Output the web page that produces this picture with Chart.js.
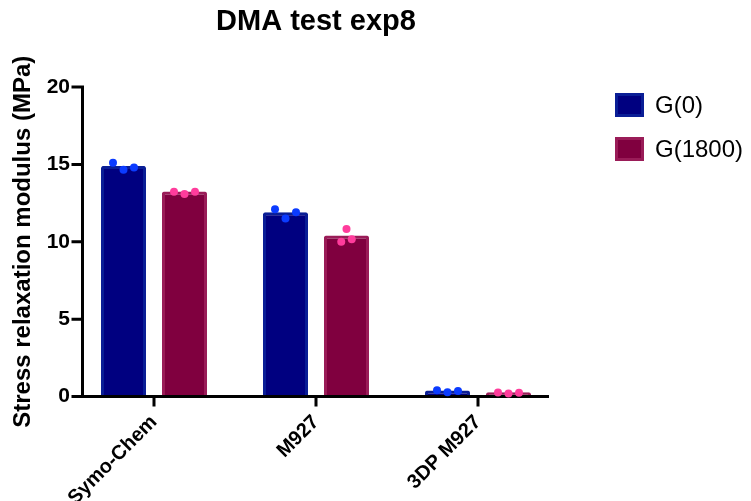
<!DOCTYPE html>
<html>
<head>
<meta charset="utf-8">
<title>DMA test exp8</title>
<script src="https://cdn.jsdelivr.net/npm/chart.js@4.4.1/dist/chart.umd.min.js"></script>
<style>
  html, body { margin: 0; padding: 0; background: #fff; }
  #wrap { width: 751px; height: 501px; }
</style>
</head>
<body>
<div id="wrap"><canvas id="dmaChart" width="751" height="501"></canvas></div>
<script>
// Sample groups and series
const groups = ['Symo-Chem', 'M927', '3DP M927'];
const seriesNames = ['G(0)', 'G(1800)'];

// Bar heights (mean modulus, MPa)
const g0Means = [14.9, 11.9, 0.38];
const g1800Means = [13.25, 10.4, 0.27];

// Individual replicates per group
const g0Reps = [[15.1, 14.65, 14.8], [12.1, 11.5, 11.9], [0.4, 0.28, 0.35]];
const g1800Reps = [[13.23, 13.09, 13.23], [10.0, 10.82, 10.16], [0.26, 0.2, 0.24]];

const yTicks = [0, 5, 10, 15, 20];

// Horizontal spread of replicate dots, in dot steps
const g0Jitter = [[-1, 0, 1], [-1, 0, 1], [-1, 0, 1]];
const g1800Jitter = [[-1, 0, 1], [-0.5, 0, 0.5], [-1, 0, 1]];

const FONT = "'Liberation Sans', Arial, Helvetica, sans-serif";
const colors = {
    g0: { fill: '#000080', border: '#0A1E96', dot: '#0B3BFF' },
    g1800: { fill: '#80003F', border: '#9A1C58', dot: '#FF3C9C' }
};

const DOT_STEP = 10.5;   // px between replicate dots
const DOT_RADIUS = 4;

// Replicate dots sit on top of each bar, spread sideways
const dotsPlugin = {
    id: 'replicateDots',
    afterDatasetsDraw(chart) {
        const { ctx } = chart;
        const y = chart.scales.y;
        const sets = [
            { reps: g0Reps, jitter: g0Jitter, color: colors.g0.dot },
            { reps: g1800Reps, jitter: g1800Jitter, color: colors.g1800.dot }
        ];
        ctx.save();
        sets.forEach((s, di) => {
            const bars = chart.getDatasetMeta(di).data;
            ctx.fillStyle = s.color;
            s.reps.forEach((vals, i) => {
                vals.forEach((v, k) => {
                    ctx.beginPath();
                    ctx.arc(bars[i].x + s.jitter[i][k] * DOT_STEP, y.getPixelForValue(v), DOT_RADIUS, 0, Math.PI * 2);
                    ctx.fill();
                });
            });
        });
        ctx.restore();
    }
};

// Prism-style axes: y line inset from the plot edge, x line stopping short
const axesPlugin = {
    id: 'prismAxes',
    afterDatasetsDraw(chart) {
        const { ctx, chartArea, scales } = chart;
        const x = scales.x, y = scales.y;
        const axisX = chartArea.left + 9.5;
        const axisEnd = chartArea.right - 10;
        const base = y.getPixelForValue(0);
        ctx.save();
        ctx.strokeStyle = '#000';
        ctx.lineWidth = 3;
        ctx.beginPath();
        ctx.moveTo(axisX, y.getPixelForValue(yTicks[yTicks.length - 1]) - 1.5);
        ctx.lineTo(axisX, base);
        ctx.moveTo(axisX - 1.5, base);
        ctx.lineTo(axisEnd, base);
        yTicks.forEach(t => {
            const py = y.getPixelForValue(t);
            ctx.moveTo(axisX - 11, py);
            ctx.lineTo(axisX, py);
        });
        groups.forEach((g, i) => {
            const px = x.getPixelForValue(i);
            ctx.moveTo(px, base);
            ctx.lineTo(px, base + 10);
        });
        ctx.stroke();
        ctx.restore();
    }
};

// Legend on the right with filled boxes
const legendPlugin = {
    id: 'sideLegend',
    afterDraw(chart) {
        const { ctx } = chart;
        const left = 615, top = 93, boxW = 29, boxH = 24, gap = 44;
        ctx.save();
        chart.data.datasets.forEach((ds, i) => {
            const yTop = top + i * gap;
            ctx.fillStyle = ds.borderColor;
            ctx.fillRect(left, yTop, boxW, boxH);
            ctx.fillStyle = ds.backgroundColor;
            ctx.fillRect(left + 3, yTop + 3, boxW - 6, boxH - 6);
            ctx.fillStyle = '#000';
            ctx.font = '24px ' + FONT;
            ctx.textBaseline = 'middle';
            ctx.textAlign = 'left';
            ctx.fillText(ds.label, left + 40, yTop + boxH / 2 + 1);
        });
        ctx.restore();
    }
};

new Chart(document.getElementById('dmaChart'), {
    type: 'bar',
    data: {
        labels: groups,
        datasets: [
            {
                label: seriesNames[0],
                data: g0Means,
                backgroundColor: colors.g0.fill,
                borderColor: colors.g0.border,
                borderWidth: 3,
                borderRadius: 2
            },
            {
                label: seriesNames[1],
                data: g1800Means,
                backgroundColor: colors.g1800.fill,
                borderColor: colors.g1800.border,
                borderWidth: 3,
                borderRadius: 2
            }
        ]
    },
    options: {
        responsive: false,
        animation: false,
        categoryPercentage: 0.753,
        barPercentage: 0.738,
        layout: { padding: { left: 0, right: 192, top: 0, bottom: 0 } },
        plugins: {
            legend: { display: false },
            tooltip: { enabled: false },
            title: {
                display: true,
                fullSize: false,
                text: 'DMA test exp8',
                color: '#000',
                font: { family: FONT, size: 29, weight: 'bold' },
                padding: { top: 5, bottom: 47.2 }
            }
        },
        scales: {
            x: {
                offset: true,
                grid: { display: false },
                border: { display: false },
                ticks: {
                    color: '#000',
                    font: { family: FONT, size: 20, weight: 'bold' },
                    minRotation: 45,
                    maxRotation: 45,
                    padding: 6
                },
                afterFit: s => { s.height = 104.5; }
            },
            y: {
                min: 0,
                max: 20,
                grid: { display: false, drawTicks: false },
                border: { display: false },
                afterBuildTicks: s => { s.ticks = yTicks.map(v => ({ value: v })); },
                ticks: {
                    color: '#000',
                    font: { family: FONT, size: 21, weight: 'bold' },
                    padding: 3
                },
                title: {
                    display: true,
                    text: 'Stress relaxation modulus (MPa)',
                    color: '#000',
                    font: { family: FONT, size: 24, weight: 'bold' },
                    padding: { top: 9, bottom: 0 }
                },
                afterFit: s => { s.width = 73; }
            }
        }
    },
    plugins: [axesPlugin, dotsPlugin, legendPlugin]
});
</script>
</body>
</html>
